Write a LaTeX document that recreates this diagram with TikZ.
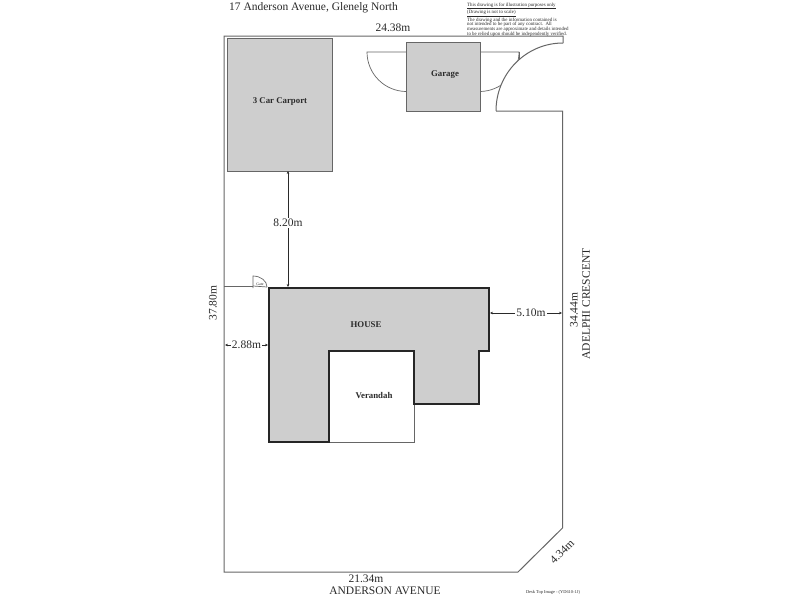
\documentclass[tikz,border=0pt]{standalone}
\usepackage{fontspec}
\setmainfont{Liberation Serif}
\usetikzlibrary{arrows.meta}
\definecolor{roomgray}{HTML}{CECECE}
\definecolor{inkgray}{HTML}{2A2A2A}
\definecolor{linegray}{HTML}{666666}
\tikzset{
  boundary/.style={draw=linegray,line width=1pt},
  thinline/.style={draw=linegray,line width=0.7pt},
  room/.style={draw=linegray,fill=roomgray,line width=1.2pt},
  housewall/.style={draw=black!85,fill=roomgray,line width=2pt,line join=miter},
  dimline/.style={draw=inkgray,line width=0.6pt,{Stealth[length=3pt,width=2.6pt]}-{Stealth[length=3pt,width=2.6pt]}},
  dimtext/.style={font=\fontsize{11.5}{12}\selectfont,text=inkgray,inner sep=1pt},
  dimlabel/.style={dimtext,fill=white},
  roomtext/.style={font=\fontsize{8.8}{10}\selectfont\bfseries,text=inkgray},
  notetext/.style={font=\fontsize{4.9}{4.75}\selectfont,text=inkgray,align=left,anchor=north west,inner sep=0pt},
}
\begin{document}
\begin{tikzpicture}[x=1pt,y=-1pt]
\useasboundingbox (0,0) rectangle (800,600);
\fill[white] (0,0) rectangle (800,600);
% garage doors
\draw[thinline] (406,52) -- (367,52) arc[start angle=180,end angle=90,radius=39.5];
\draw[thinline] (480,52) -- (519,52) arc[start angle=0,end angle=90,radius=39.5];
% driveway gate: clears the corner behind its arc
\fill[white] (496,111) arc[start angle=180,end angle=270,x radius=67,y radius=68] -- (563,111) -- cycle;
\draw[thinline] (519,52) -- (519,60);
\draw[boundary] (496,111) arc[start angle=180,end angle=270,x radius=67,y radius=68];
% site boundary
\draw[boundary] (563,43) -- (563,36) -- (224,36) -- (224,572) -- (518,572) -- (562.5,528) -- (562.5,111) -- (496,111);
% rooms
\node[room,minimum width=105pt,minimum height=133pt,inner sep=0pt,anchor=north west] (carport) at (227,38) {};
\node[roomtext] (carportlabel) at (280,102) {3 Car Carport};
\node[room,minimum width=74pt,minimum height=69pt,inner sep=0pt,anchor=north west] (garage) at (406,42) {};
\node[roomtext] (garagelabel) at (445,75) {Garage};
% verandah
\draw[thinline] (414,404) -- (414,442) -- (329,442);
% house
\draw[housewall] (269,288) -- (489,288) -- (489,351) -- (479,351) -- (479,404) -- (414,404) -- (414,351) -- (329,351) -- (329,442) -- (269,442) -- cycle;
\node[roomtext] (houselabel) at (366,325) {HOUSE};
\node[roomtext] (verandahlabel) at (374,396) {Verandah};
% side gate
\coordinate (fenceL) at (224,286);
\coordinate (gateA) at (253,286);
\draw[thinline] (fenceL) -- (gateA);
\draw[thinline] (253,288) -- (253,276) arc[start angle=270,end angle=360,x radius=14,y radius=11];
\draw[thinline] (253,286) -- (267,287);
\node[font=\fontsize{3.8}{4}\selectfont,text=inkgray,inner sep=0pt] (gatelabel) at (260,284) {Gate};
% dimensions
\coordinate (d820a) at (288,171); \coordinate (d820b) at (288,287);
\draw[dimline] (d820a) -- (d820b);
\node[dimlabel] (d820) at (288,223) {8.20m};
\coordinate (d288a) at (225,345); \coordinate (d288b) at (268,345);
\draw[dimline] (d288a) -- (d288b);
\node[dimlabel] (d288) at (246.5,345) {2.88m};
\coordinate (d510a) at (490,313); \coordinate (d510b) at (562,313);
\draw[dimline] (d510a) -- (d510b);
\node[dimlabel] (d510) at (531,313) {5.10m};
% outside labels
\node[dimtext] (top) at (393,28) {24.38m};
\node[dimtext,rotate=90] (left) at (213,303) {37.80m};
\node[dimtext,rotate=90] (right) at (574,310) {34.44m};
\node[dimtext,rotate=90] (street2) at (586,304) {ADELPHI CRESCENT};
\node[dimtext,rotate=45] (chamfer) at (562,552) {4.34m};
\node[dimtext] (bottom) at (366,579) {21.34m};
\node[dimtext] (street1) at (385,591) {ANDERSON AVENUE};
\node[dimtext,anchor=west] (title) at (228,8) {17 Anderson Avenue, Glenelg North};
\node[notetext] (note) at (467,2.5) {\underline{This drawing is for illustration purposes only}\\\underline{(Drawing is not to scale)}\\The drawing and the information contained is\\not intended to be part of any contract.\ \ All\\measurements are approximate and details intended\\to be relied upon should be independently verified.};
\node[font=\fontsize{4.4}{5}\selectfont,text=inkgray,inner sep=0pt] (footer) at (553,592) {Desk Top Image - (YD610-1J)};
\end{tikzpicture}
\end{document}
